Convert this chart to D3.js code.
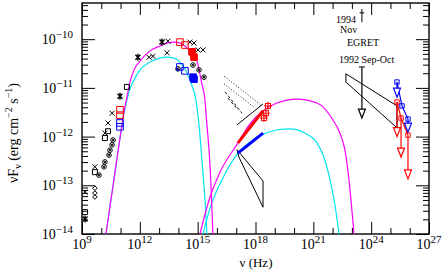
<!DOCTYPE html>
<html><head><meta charset="utf-8">
<script src="https://cdn.jsdelivr.net/npm/d3@7"></script>
<style>
body{margin:0;background:#fff}
svg{display:block}
text{font-family:"Liberation Serif","DejaVu Serif",serif;fill:#000}
</style>
</head><body>
<svg id="chart" width="443" height="271"></svg>
<script>
// all values are log10(nu / Hz) , log10(nuFnu / erg cm-2 s-1)
var syncMagenta = [[10.24,-14],[10.61,-13.01],[10.97,-12.03],[11.18,-11.49],[11.33,-11.19],[11.49,-10.88],[11.70,-10.63],[12.01,-10.45],[12.53,-10.24],[13.05,-10.14],[13.41,-10.08],[13.82,-10.06],[14.19,-10.10],[14.60,-10.24],[14.96,-10.45],[15.22,-10.92],[15.38,-11.25],[15.48,-11.76],[15.59,-12.28],[15.69,-12.99],[15.79,-14]];
var syncCyan = [[10.24,-14],[10.61,-13.01],[10.97,-12.03],[11.18,-11.52],[11.33,-11.25],[11.49,-11.02],[11.75,-10.80],[12.01,-10.63],[12.53,-10.47],[13.05,-10.39],[13.41,-10.37],[13.77,-10.39],[14.08,-10.47],[14.39,-10.65],[14.71,-10.96],[14.91,-11.25],[15.07,-11.76],[15.22,-12.48],[15.38,-13.30],[15.48,-14]];
var icMagenta = [[15.12,-14],[15.64,-13.24],[16.16,-12.73],[17.09,-12.13],[17.71,-11.74],[18.39,-11.47],[19.11,-11.31],[20.15,-11.23],[21.19,-11.31],[22.02,-11.66],[22.38,-11.93],[22.64,-12.28],[22.85,-12.89],[23.0,-13.51],[23.11,-14]];
var icCyan = [[15.28,-14],[15.64,-13.47],[16.26,-12.89],[17.09,-12.34],[17.71,-12.11],[18.39,-11.95],[19.17,-11.86],[19.79,-11.84],[20.57,-11.93],[21.19,-12.13],[21.60,-12.48],[21.92,-12.99],[22.12,-13.40],[22.33,-14]];

// black archival points
var crossPts = [[10.56,-11.52],[10.35,-11.72],[10.19,-11.93],[9.67,-12.62],[9.16,-13.14],[12.48,-10.37],[12.68,-10.35],[13.46,-10.04],[13.41,-10.28],[14.60,-10.06],[14.81,-10.08],[15.02,-10.22],[15.28,-10.22]];
var starPts = [[10.97,-11.17],[11.90,-10.37],[13.15,-10.06],[9.16,-13.69]];
var squarePts = [[11.33,-10.98],[10.35,-11.89],[10.19,-12.03],[9.67,-12.73],[9.16,-13.55]];
var circlePts = [[10.61,-12.07],[10.56,-12.17],[10.45,-12.28],[10.40,-12.38],[10.19,-12.52],[10.14,-12.62],[9.88,-12.79],[13.98,-10.61],[14.76,-10.53],[15.07,-10.63],[15.33,-10.78]];
var diamondPts = [[9.67,-13.06],[9.67,-13.16],[9.67,-13.24]];

// simultaneous campaign points: [logNu, logF, filled]
var redSquares = [[10.97,-11.45,0],[10.97,-11.56,0],[14.08,-10.06,0],[14.34,-10.12,0],[14.71,-10.26,1],[14.81,-10.37,1]];
var blueSquares = [[10.97,-11.72,0],[10.97,-11.80,0],[14.08,-10.57,0],[14.34,-10.65,0],[14.76,-10.78,1],[14.81,-10.82,1]];

// X-ray spectra (ends of power laws)
var redXray = [[17.09,-12.13],[18.39,-11.47]];
var blueXray = [[17.09,-12.34],[18.39,-11.93]];
var redXrayBoxes = [[18.65,-11.37],[18.54,-11.52],[18.44,-11.62]];
var blackXray = [[17.04,-11.76],[18.39,-11.33]];
var dottedXray = [[[16.37,-10.76],[18.34,-11.37]],[[16.37,-10.92],[17.97,-11.41]]];
var dashedXray = [[[16.42,-11.08],[17.30,-11.52]],[[16.57,-11.21],[17.09,-11.45]]];
var hardXrayBox = [[17.04,-12.27],[18.39,-12.91],[18.39,-13.45],[17.14,-12.42],[17.04,-12.27]];

// gamma rays
var egretBowtie = [[22.69,-10.71],[25.34,-11.37],[25.34,-11.82],[22.69,-10.88],[22.69,-10.71]];
var egret1992 = {nu:23.52, top:-10.57, tip:-11.62};
var egret1994 = {nu:23.52, val:-9.46, lo:-9.65, hi:-9.38, nuLo:23.40, nuHi:23.64};
var tevBlue = [[25.34,-10.88,-11.19],[25.60,-11.37,null],[25.91,-11.64,-11.91]];
var tevRed = [[25.34,-11.29,-12.0],[25.55,-11.62,-12.42],[25.91,-11.97,-12.87]];

var xMajor = [9,12,15,18,21,24,27];
var yMajor = [-14,-13,-12,-11,-10];

var svg = d3.select('#chart');
var x = d3.scaleLinear().domain([9,27]).range([82,429]);
var y = d3.scaleLinear().domain([-14,-9.257]).range([234,3]);

svg.append('clipPath').attr('id','clip').append('rect')
    .attr('x',82).attr('y',3).attr('width',347).attr('height',231);

var xMinor = d3.range(9,28).filter(function(d){return xMajor.indexOf(d)<0});
var yMinor = [];
for (var n=-14;n<-9;n++){
    for (var k=2;k<10;k++){
        var v = n+Math.log10(k);
        if (v < -9.257) yMinor.push(v);
    }
}

function tickAxis(axis, vals, len, tr){
    var g = svg.append('g').attr('transform',tr)
        .call(axis.tickValues(vals).tickSizeInner(-len).tickSizeOuter(0).tickFormat(''));
    g.select('.domain').remove();
    g.selectAll('line').attr('stroke','#000').attr('stroke-width',1);
}
tickAxis(d3.axisBottom(x), xMinor, 6, 'translate(0,234)');
tickAxis(d3.axisBottom(x), xMajor, 12, 'translate(0,234)');
tickAxis(d3.axisTop(x), xMinor, 6, 'translate(0,3)');
tickAxis(d3.axisTop(x), xMajor, 12, 'translate(0,3)');
tickAxis(d3.axisLeft(y), yMinor, 6, 'translate(82,0)');
tickAxis(d3.axisLeft(y), yMajor, 13, 'translate(82,0)');
tickAxis(d3.axisRight(y), yMinor, 6, 'translate(429,0)');
tickAxis(d3.axisRight(y), yMajor, 13, 'translate(429,0)');

svg.append('rect').attr('x',82).attr('y',3).attr('width',347).attr('height',231)
    .attr('fill','none').attr('stroke','#000').attr('stroke-width',1.4);

// tick labels
function powLabel(g, exp){
    g.append('tspan').text('10');
    g.append('tspan').attr('font-size',11).attr('dy',-6).text(exp);
}
svg.selectAll('.xl').data(xMajor).enter().append('text')
    .attr('x',function(d){return x(d)}).attr('y',249)
    .attr('text-anchor','middle').attr('font-size',14)
    .each(function(d){powLabel(d3.select(this), String(d))});
svg.selectAll('.yl').data(yMajor).enter().append('text')
    .attr('x',73).attr('y',function(d){return y(d)+5})
    .attr('text-anchor','end').attr('font-size',14)
    .each(function(d){powLabel(d3.select(this), '\u2212'+(-d))});

svg.append('text').attr('x',256).attr('y',267).attr('text-anchor','middle')
    .attr('font-size',13).text('\u03bd (Hz)');

var yl = svg.append('text').attr('transform','translate(18,133) rotate(-90)')
    .attr('text-anchor','middle').attr('font-size',14);
yl.append('tspan').text('\u03bdF');
yl.append('tspan').attr('font-size',10).attr('dy',3).text('\u03bd');
yl.append('tspan').attr('dy',-3).text(' (erg cm');
yl.append('tspan').attr('font-size',10).attr('dy',-6).text('\u22122');
yl.append('tspan').attr('dy',6).text(' s');
yl.append('tspan').attr('font-size',10).attr('dy',-6).text('\u22121');
yl.append('tspan').attr('dy',6).text(')');

var plot = svg.append('g').attr('clip-path','url(#clip)');
var line = d3.line().x(function(d){return x(d[0])}).y(function(d){return y(d[1])}).curve(d3.curveMonotoneX);
var straight = d3.line().x(function(d){return x(d[0])}).y(function(d){return y(d[1])});

[[syncCyan,'#00e5ee'],[icCyan,'#00e5ee'],[syncMagenta,'#ff00ff'],[icMagenta,'#ff00ff']].forEach(function(c){
    plot.append('path').attr('d',line(c[0])).attr('fill','none')
        .attr('stroke',c[1]).attr('stroke-width',1.2);
});

// black symbols
function sym(type, pts, r, color){
    var g = plot.append('g').attr('stroke',color).attr('fill','none').attr('stroke-width',1);
    pts.forEach(function(p){
        var cx = x(p[0]), cy = y(p[1]);
        var d;
        if (type=='x') d = 'M'+(cx-r)+','+(cy-r)+'L'+(cx+r)+','+(cy+r)+'M'+(cx-r)+','+(cy+r)+'L'+(cx+r)+','+(cy-r);
        if (type=='star') d = 'M'+(cx-r)+','+(cy-r)+'L'+(cx+r)+','+(cy+r)+'M'+(cx-r)+','+(cy+r)+'L'+(cx+r)+','+(cy-r)+'M'+cx+','+(cy-r-1)+'L'+cx+','+(cy+r+1);
        if (type=='sq') d = 'M'+(cx-r)+','+(cy-r)+'h'+2*r+'v'+2*r+'h'+(-2*r)+'Z';
        if (type=='di') d = 'M'+cx+','+(cy-r)+'L'+(cx+r)+','+cy+'L'+cx+','+(cy+r)+'L'+(cx-r)+','+cy+'Z';
        if (type=='ci'){
            g.append('circle').attr('cx',cx).attr('cy',cy).attr('r',r);
            g.append('circle').attr('cx',cx).attr('cy',cy).attr('r',0.8).attr('fill',color);
            return;
        }
        var el = g.append('path').attr('d',d);
        if (p[2]) el.attr('fill',color);
        if (type=='star') el.attr('stroke-width',1.4);
    });
}
sym('sq', squarePts, 2.5, '#000');
sym('ci', circlePts, 2.3, '#000');
sym('di', diamondPts, 2.3, '#000');
sym('x', crossPts, 2.5, '#000');
sym('star', starPts, 2.5, '#000');
sym('sq', redSquares, 3.3, '#ff0000');
sym('sq', blueSquares, 3.3, '#0000ff');

// X-ray
dottedXray.forEach(function(s){
    plot.append('path').attr('d',straight(s)).attr('stroke','#000').attr('stroke-width',0.9)
        .attr('stroke-dasharray','1,2').attr('fill','none');
});
dashedXray.forEach(function(s){
    plot.append('path').attr('d',straight(s)).attr('stroke','#000').attr('stroke-width',0.9)
        .attr('stroke-dasharray','3,2').attr('fill','none');
});
plot.append('path').attr('d',straight(blackXray)).attr('stroke','#000').attr('stroke-width',1).attr('fill','none');
plot.append('path').attr('d',straight(hardXrayBox)).attr('stroke','#000').attr('stroke-width',1).attr('fill','none');
plot.append('path').attr('d',straight(redXray)).attr('stroke','#ff0000').attr('stroke-width',3).attr('fill','none');
plot.append('path').attr('d',straight(blueXray)).attr('stroke','#0000ff').attr('stroke-width',3).attr('fill','none');
var rb = plot.append('g').attr('stroke','#ff0000').attr('fill','none').attr('stroke-width',1);
redXrayBoxes.forEach(function(p){
    var cx = x(p[0]), cy = y(p[1]);
    rb.append('rect').attr('x',cx-2.5).attr('y',cy-2.5).attr('width',5).attr('height',5);
    rb.append('path').attr('d','M'+(cx-4)+','+cy+'h8M'+cx+','+(cy-4)+'v8');
});

// gamma rays
plot.append('path').attr('d',straight(egretBowtie)).attr('stroke','#000').attr('stroke-width',1).attr('fill','none');

function downArrow(g, cx, yTop, yTip, color){
    g.append('path').attr('d','M'+cx+','+yTop+'L'+cx+','+(yTip-9))
        .attr('stroke',color).attr('stroke-width',1.2);
    g.append('path').attr('d','M'+(cx-3.5)+','+(yTip-9)+'L'+(cx+3.5)+','+(yTip-9)+'L'+cx+','+yTip+'Z')
        .attr('stroke',color).attr('fill','#fff').attr('stroke-width',1.2);
}
var eg = plot.append('g');
eg.append('path').attr('d','M'+(x(egret1992.nu)-3)+','+y(egret1992.top)+'h6').attr('stroke','#000');
downArrow(eg, x(egret1992.nu), y(egret1992.top), y(egret1992.tip), '#000');
eg.append('path').attr('d','M'+x(egret1994.nu)+','+y(egret1994.hi)+'V'+y(egret1994.lo)
    +'M'+x(egret1994.nuLo)+','+y(egret1994.val)+'H'+x(egret1994.nuHi)).attr('stroke','#000').attr('stroke-width',1);

var tv = plot.append('g');
tv.append('path').attr('d',straight(tevRed)).attr('stroke','#ff0000').attr('stroke-width',1.2).attr('fill','none');
tv.append('path').attr('d',straight(tevBlue)).attr('stroke','#0000ff').attr('stroke-width',1.2).attr('fill','none');
tevRed.forEach(function(p){ downArrow(tv, x(p[0]), y(p[1]), y(p[2]), '#ff0000'); });
tevBlue.forEach(function(p){ if (p[2]!==null) downArrow(tv, x(p[0]), y(p[1]), y(p[2]), '#0000ff'); });
sym('sq', tevRed.map(function(p){return [p[0],p[1]]}), 2.2, '#ff0000');
sym('sq', tevBlue.map(function(p){return [p[0],p[1]]}), 2.2, '#0000ff');

// annotations
function note(t, px, py){
    svg.append('text').attr('x',px).attr('y',py).attr('font-size',10).text(t);
}
note('1994', 336, 23);
note('Nov', 340, 33);
note('EGRET', 347, 46);
note('1992 Sep-Oct', 339, 63);
</script>
</body></html>
